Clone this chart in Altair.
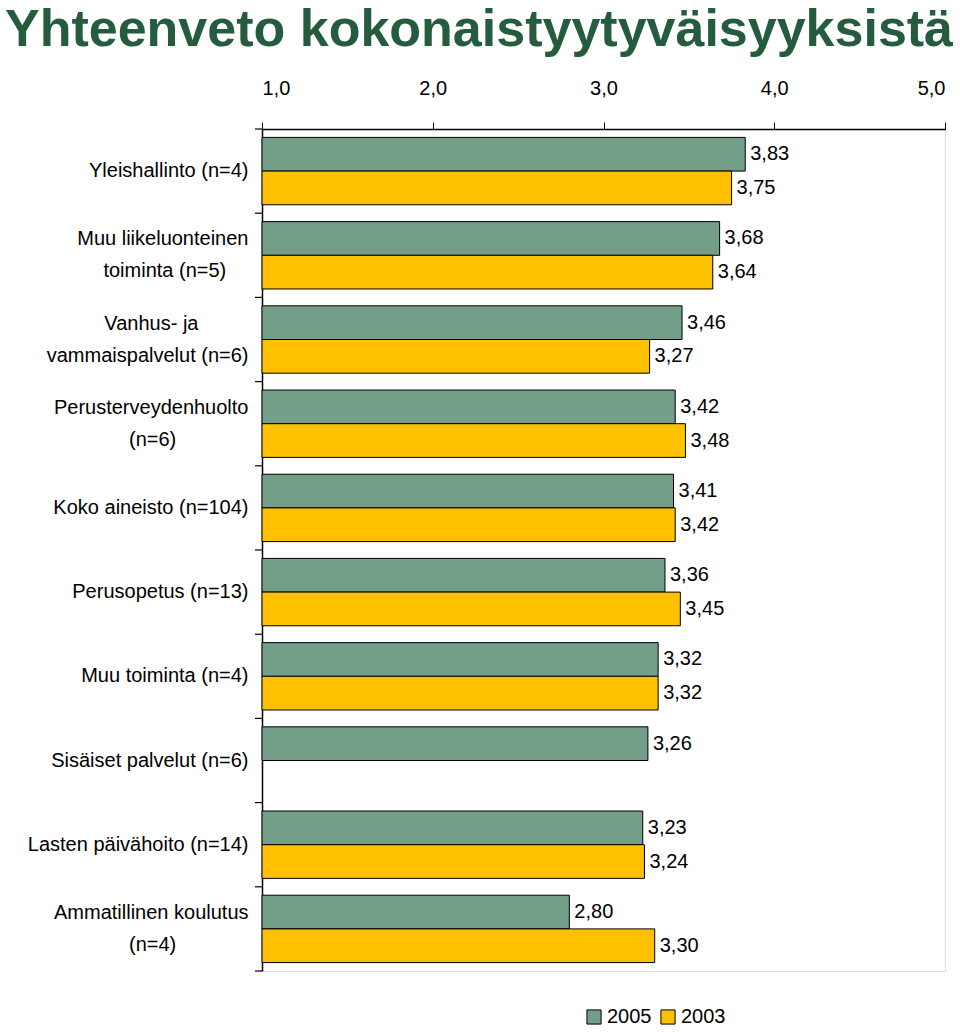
import altair as alt
import pandas as pd

categories = [
    "Yleishallinto (n=4)",
    "Muu liikeluonteinen\ntoiminta (n=5)",
    "Vanhus- ja\nvammaispalvelut (n=6)",
    "Perusterveydenhuolto\n(n=6)",
    "Koko aineisto (n=104)",
    "Perusopetus (n=13)",
    "Muu toiminta (n=4)",
    "Sisäiset palvelut (n=6)",
    "Lasten päivähoito (n=14)",
    "Ammatillinen koulutus\n(n=4)",
]
series = ["2005", "2003"]
values_2005 = [3.83, 3.68, 3.46, 3.42, 3.41, 3.36, 3.32, 3.26, 3.23, 2.80]
values_2003 = [3.75, 3.64, 3.27, 3.48, 3.42, 3.45, 3.32, None, 3.24, 3.30]
x_ticks = [1, 2, 3, 4, 5]
colors = ["#739e88", "#ffc000"]

# Visual centring of two-line labels: pad the shorter line with no-break spaces
pad_counts = {1: 4, 2: 9, 3: 13, 9: 13}
NBSP = "\u00a0"
WJ = "\u2060"


def display_label(i, c):
    lines = c.split("\n")
    if len(lines) == 2 and i in pad_counts:
        k = 0 if i == 2 else 1
        lines[k] = lines[k] + NBSP * pad_counts[i] + WJ
    return "\n".join(lines)


labels = [display_label(i, c) for i, c in enumerate(categories)]

rows = []
for i, lab in enumerate(labels):
    for s, vals in (("2005", values_2005), ("2003", values_2003)):
        if vals[i] is not None:
            rows.append({"cat": lab, "series": s, "value": vals[i]})
df = pd.DataFrame(rows)

W, H = 683, 842
STEP = H / len(categories)
FONT = "Liberation Sans"
LINE_H = 32

yenc = alt.Y(
    "cat:N",
    sort=labels,
    scale=alt.Scale(domain=labels, paddingInner=0.2, paddingOuter=0.1),
    axis=alt.Axis(
        title=None,
        ticks=False,
        domain=True,
        domainColor="black",
        domainWidth=1.5,
        labelFontSize=20,
        labelFont=FONT,
        labelColor="black",
        labelPadding=14,
        labelLimit=300,
        labelLineHeight=LINE_H,
        labelExpr="split(datum.label, '\\n')",
        labelOffset={
            "condition": {"test": "indexof(datum.value, '\\n') >= 0", "value": -LINE_H / 2},
            "value": 0,
        },
    ),
)
yoff = alt.YOffset(
    "series:N",
    sort=series,
    scale=alt.Scale(domain=series, paddingInner=0, paddingOuter=0),
)
xscale = alt.Scale(domain=[1, 5], zero=False, nice=False)

base = alt.Chart(df).transform_calculate(
    label="replace(format(datum.value, '.2f'), '.', ',')"
)

bars = base.mark_bar(stroke="black", strokeWidth=1).encode(
    x=alt.X(
        "value:Q",
        scale=xscale,
        axis=alt.Axis(
            orient="top",
            title=None,
            values=x_ticks,
            labelExpr="replace(format(datum.value, '.1f'), '.', ',')",
            labelFontSize=20,
            labelFont=FONT,
            labelColor="black",
            tickColor="black",
            tickSize=7,
            domainColor="black",
            domainWidth=1.5,
            labelPadding=24,
            grid=False,
        ),
    ),
    x2=alt.datum(1),
    y=yenc,
    yOffset=yoff,
    color=alt.Color(
        "series:N",
        sort=series,
        scale=alt.Scale(domain=series, range=colors),
        legend=alt.Legend(
            title=None,
            orient="none",
            legendX=322,
            legendY=878,
            direction="horizontal",
            symbolType="square",
            symbolSize=200,
            symbolStrokeColor="black",
            symbolStrokeWidth=1,
            symbolOpacity=1,
            labelFontSize=20,
            labelFont=FONT,
            labelColor="black",
            labelOffset=3,
            columnPadding=6,
        ),
    ),
)

texts = base.mark_text(
    align="left", baseline="middle", dx=5, fontSize=20, font=FONT, color="black"
).encode(
    x=alt.X("value:Q", scale=xscale),
    y=alt.Y("cat:N", sort=labels),
    yOffset=yoff,
    text="label:N",
)

tick_df = pd.DataFrame({"cat": labels})
ticks = alt.Chart(tick_df).mark_rule(
    color="black", strokeWidth=1.2, yOffset=-0.1 * STEP
).encode(
    y=alt.Y("cat:N", sort=labels, bandPosition=0),
    x=alt.value(-7),
    x2=alt.value(0),
)
bottom_tick = alt.Chart(pd.DataFrame({"a": [0]})).mark_rule(
    color="black", strokeWidth=1.2
).encode(y=alt.value(H), x=alt.value(-7), x2=alt.value(0))

chart = (
    alt.layer(bars, texts, ticks, bottom_tick)
    .properties(
        width=W,
        height=H,
        autosize=alt.AutoSizeParams(type="none"),
        padding={"left": 262, "top": 129, "right": 15, "bottom": 61},
        title=alt.TitleParams(
            "Yhteenveto kokonaistyytyväisyyksistä",
            font=FONT,
            fontSize=52,
            fontWeight="bold",
            color="#245c3d",
            anchor="start",
            frame="group",
            dx=-257,
            offset=21,
        ),
    )
    .configure_view(stroke="#3d5a4e", strokeWidth=1.5)
    .configure(background="white")
)

chart.save("out.html", embed_options={"renderer": "svg", "actions": False})
